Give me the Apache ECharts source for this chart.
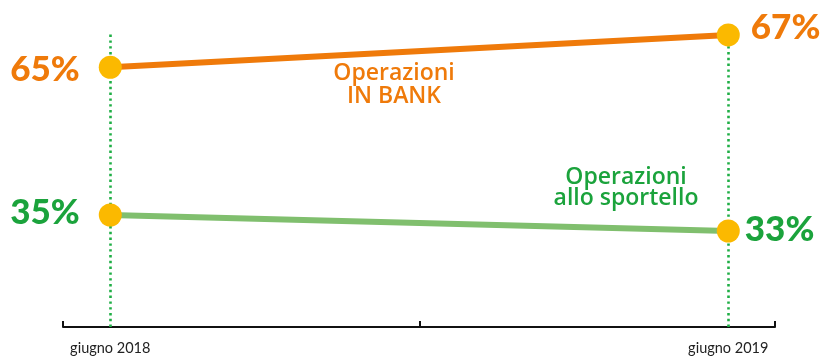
<!DOCTYPE html>
<html>
<head>
<meta charset="utf-8">
<script src="https://cdn.jsdelivr.net/npm/echarts@6/dist/echarts.min.js"></script>
<style>
  html, body { margin: 0; padding: 0; background: #ffffff; }
  #chart { width: 822px; height: 357px; }
</style>
</head>
<body>
<div id="chart"></div>
<script>
// Periods on the horizontal axis
const periods = ['giugno 2018', 'giugno 2019'];
// Share of operations (%)
const inBank = [65, 67];
const sportello = [35, 33];

const ORANGE = '#ef7a0a';
const GREEN_TEXT = '#1ba33c';
const GREEN_LINE = '#80bf6e';
const DOT_GREEN = '#1fae45';
const MARKER = '#fbb900';

const xMin = -0.0765, xMax = 1.0756;

function pointsOf(values, leftDist, rightDist, leftOff, rightOff) {
  return values.map((v, i) => ({
    value: [i, v],
    label: {
      position: i === 0 ? 'left' : 'right',
      distance: i === 0 ? leftDist : rightDist,
      offset: i === 0 ? leftOff : rightOff
    }
  }));
}

const valueLabel = (color) => ({
  show: true,
  formatter: (p) => p.value[1] + '%',
  color: color,
  fontFamily: 'Lato',
  fontWeight: 900,
  fontSize: 35
});

const chart = echarts.init(document.getElementById('chart'), null, { renderer: 'canvas' });

chart.setOption({
  animation: false,
  backgroundColor: '#ffffff',
  grid: { left: 63, right: 47, top: 33, bottom: 30 },
  xAxis: {
    type: 'value',
    min: xMin,
    max: xMax,
    splitLine: { show: false },
    axisLine: { show: true, onZero: false, lineStyle: { color: '#111', width: 2 } },
    axisTick: {
      show: true,
      inside: true,
      length: 6,
      lineStyle: { color: '#111', width: 2 },
      customValues: [xMin, 0.5, xMax]
    },
    axisLabel: {
      customValues: [0, 1],
      formatter: (v) => periods[Math.round(v)],
      color: '#222',
      fontFamily: 'Lato',
      fontSize: 14.5,
      margin: 14
    }
  },
  yAxis: [
    { type: 'value', min: 48.92, max: 67.12, show: false },
    { type: 'value', min: 21, max: 57.75, show: false }
  ],
  series: [
    {
      // dotted guides at each period, kept beneath the markers
      type: 'line',
      data: [],
      z: 1,
      markLine: {
        silent: true,
        z: 1,
        symbol: 'none',
        label: { show: false },
        lineStyle: { color: DOT_GREEN, width: 2.6, type: [2.4, 3.4] },
        data: [{ xAxis: 0 }, { xAxis: 1 }]
      }
    },
    {
      name: 'Operazioni IN BANK',
      type: 'line',
      yAxisIndex: 0,
      z: 3,
      clip: false,
      symbol: 'circle',
      symbolSize: 23,
      itemStyle: { color: MARKER },
      lineStyle: { color: ORANGE, width: 6 },
      label: valueLabel(ORANGE),
      data: pointsOf(inBank, 19, 11, [0, 2], [0, -7])
    },
    {
      name: 'Operazioni allo sportello',
      type: 'line',
      yAxisIndex: 1,
      z: 3,
      clip: false,
      symbol: 'circle',
      symbolSize: 23,
      itemStyle: { color: MARKER },
      lineStyle: { color: GREEN_LINE, width: 6 },
      label: valueLabel(GREEN_TEXT),
      data: pointsOf(sportello, 19, 5, [0, -2], [0, -1])
    }
  ],
  graphic: [
    {
      type: 'text',
      x: 394, y: 62,
      style: {
        text: 'Operazioni\nIN BANK',
        textAlign: 'center',
        textVerticalAlign: 'top',
        fill: ORANGE,
        font: '600 23px "Open Sans"',
        lineHeight: 23
      }
    },
    {
      type: 'text',
      x: 626, y: 167,
      style: {
        text: 'Operazioni\nallo sportello',
        textAlign: 'center',
        textVerticalAlign: 'top',
        fill: GREEN_TEXT,
        font: '600 23px "Open Sans"',
        lineHeight: 21
      }
    }
  ]
});
</script>
</body>
</html>
